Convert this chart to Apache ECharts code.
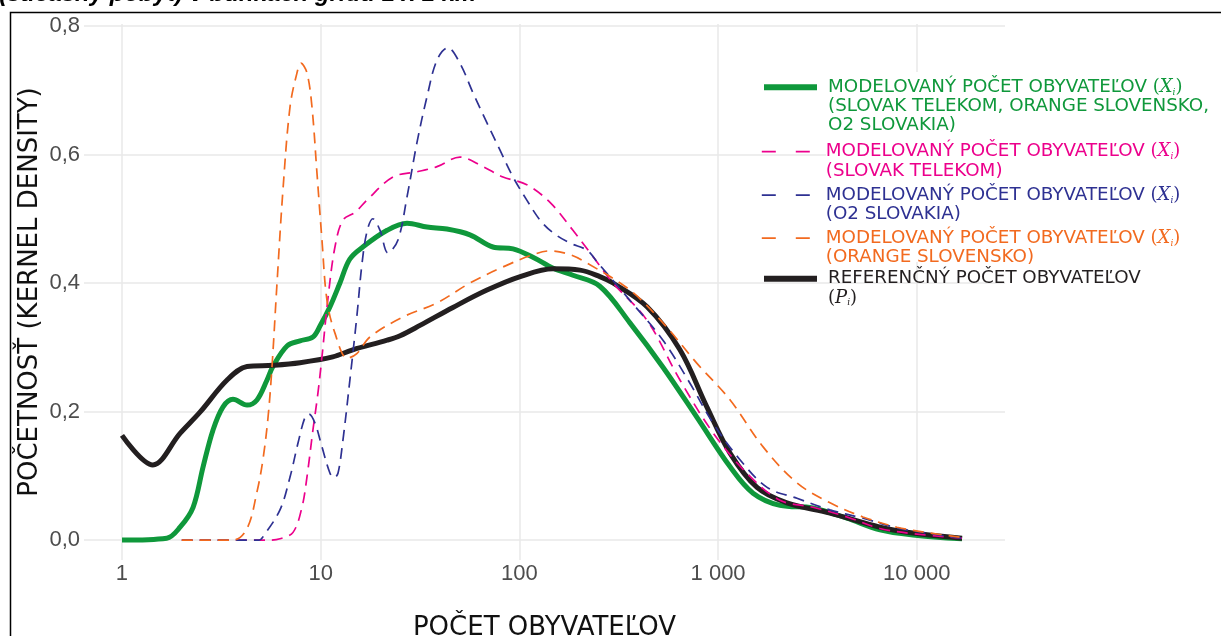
<!DOCTYPE html>
<html>
<head>
<meta charset="utf-8">
<title>Početnosť - počet obyvateľov</title>
<script src="https://cdn.jsdelivr.net/npm/echarts@6.0.0/dist/echarts.min.js"></script>
<style>
html,body{margin:0;padding:0;background:#fff;}
#main{width:1221px;height:636px;}
</style>
</head>
<body>
<div id="main"></div>
<script>
//osi
var xTicks = [1, 10, 100, 1000, 10000];
var yTicks = [0, 0.2, 0.4, 0.6, 0.8];

//modelovany pocet - vsetci operatori
var allX = [1, 1.68, 1.96, 2.28, 2.56, 2.87, 3.22, 3.62, 4.26, 4.78, 5.37, 5.75, 6.77, 7.87, 9.14, 9.92, 11.1, 12.5, 14.0, 16.3, 21.6, 27.2, 34.3, 43.2, 56.4, 73.6, 92.9, 117, 148, 186, 254, 360, 528, 783, 1150, 1500, 2050, 3000, 4450, 6530, 9570, 16900];
var allY = [0, 0.003, 0.02, 0.051, 0.114, 0.171, 0.207, 0.219, 0.21, 0.218, 0.249, 0.27, 0.302, 0.31, 0.316, 0.333, 0.362, 0.40, 0.437, 0.456, 0.482, 0.493, 0.487, 0.484, 0.475, 0.456, 0.453, 0.44, 0.423, 0.412, 0.395, 0.338, 0.269, 0.191, 0.114, 0.073, 0.054, 0.05, 0.034, 0.016, 0.008, 0.002];

//slovak telekom
var tkX = [2, 5.5, 6.24, 7.26, 8.05, 8.53, 9.14, 9.69, 10.15, 10.9, 11.8, 12.95, 14.9, 17.1, 23.1, 30.5, 38.5, 50.2, 65.6, 82.7, 109, 143, 186, 236, 296, 439, 643, 943, 1397, 2049, 3003, 4454, 6527, 9571, 16890];
var tkY = [0, 0, 0.002, 0.012, 0.051, 0.098, 0.171, 0.229, 0.285, 0.378, 0.456, 0.498, 0.51, 0.529, 0.565, 0.573, 0.581, 0.596, 0.581, 0.565, 0.553, 0.525, 0.482, 0.44, 0.40, 0.342, 0.249, 0.167, 0.104, 0.062, 0.051, 0.036, 0.018, 0.01, 0.003];

//o2 slovakia
var o2X = [2, 4.9, 5.12, 6.24, 7.01, 7.69, 8.34, 8.73, 9.36, 10.15, 11.14, 11.67, 12.22, 12.95, 14.04, 15.23, 16.14, 17.1, 18.3, 19.9, 21.8, 24.5, 27.2, 30.5, 34.3, 38.5, 43.7, 50.2, 58.4, 68.7, 79.8, 92.9, 109, 127, 148, 180, 219, 249, 360, 528, 722, 943, 1289, 1765, 2495, 3658, 5360, 7950, 11650, 16890];
var o2Y = [0, 0, 0.005, 0.047, 0.098, 0.151, 0.191, 0.196, 0.182, 0.145, 0.104, 0.097, 0.104, 0.156, 0.25, 0.35, 0.43, 0.48, 0.50, 0.482, 0.447, 0.467, 0.534, 0.618, 0.69, 0.747, 0.766, 0.742, 0.696, 0.649, 0.607, 0.565, 0.529, 0.498, 0.478, 0.462, 0.451, 0.431, 0.373, 0.311, 0.244, 0.182, 0.125, 0.082, 0.065, 0.047, 0.034, 0.019, 0.01, 0.003];

//orange slovensko
var orX = [2, 3.62, 4.26, 4.78, 5.12, 5.43, 5.69, 6.03, 6.46, 7.01, 7.6, 7.96, 8.53, 9.04, 9.58, 10.15, 10.76, 11.8, 13.6, 15.2, 17.7, 25.9, 38.5, 56.4, 82.7, 117, 143, 180, 219, 360, 528, 783, 1150, 1685, 2495, 3660, 5360, 7950, 11650, 16900];
var orY = [0, 0, 0.018, 0.075, 0.125, 0.19, 0.27, 0.40, 0.545, 0.674, 0.727, 0.742, 0.727, 0.674, 0.571, 0.467, 0.373, 0.322, 0.283, 0.29, 0.316, 0.347, 0.369, 0.40, 0.425, 0.444, 0.45, 0.444, 0.431, 0.389, 0.338, 0.275, 0.218, 0.145, 0.089, 0.058, 0.036, 0.02, 0.011, 0.004];

//referencny pocet
var refX = [1, 1.43, 1.96, 2.47, 3.38, 4.26, 5.75, 7.87, 11.5, 14.5, 21.6, 25.1, 31.6, 46.3, 68.7, 101, 148, 202, 254, 296, 439, 643, 879, 1150, 1570, 2220, 3660, 6530, 9570, 16900];
var refY = [0.163, 0.117, 0.166, 0.199, 0.249, 0.27, 0.272, 0.276, 0.285, 0.296, 0.311, 0.318, 0.334, 0.362, 0.389, 0.41, 0.422, 0.42, 0.41, 0.40, 0.363, 0.296, 0.207, 0.135, 0.082, 0.058, 0.042, 0.02, 0.011, 0.003];

var seriesNames = ['SLOVAK TELEKOM, ORANGE SLOVENSKO, O2 SLOVAKIA', 'SLOVAK TELEKOM', 'O2 SLOVAKIA', 'ORANGE SLOVENSKO', 'REFERENČNÝ POČET OBYVATEĽOV'];
var legendText = [
    'MODELOVANÝ POČET OBYVATEĽOV {p|(}{m|X}{s|i}{p|)}\n(SLOVAK TELEKOM, ORANGE SLOVENSKO,\nO2 SLOVAKIA)',
    'MODELOVANÝ POČET OBYVATEĽOV {p|(}{m|X}{s|i}{p|)}\n(SLOVAK TELEKOM)',
    'MODELOVANÝ POČET OBYVATEĽOV {p|(}{m|X}{s|i}{p|)}\n(O2 SLOVAKIA)',
    'MODELOVANÝ POČET OBYVATEĽOV {p|(}{m|X}{s|i}{p|)}\n(ORANGE SLOVENSKO)',
    'REFERENČNÝ POČET OBYVATEĽOV\n{p|(}{m|P}{s|i}{p|)}'
];
var colors = ['#0f983b', '#ec008c', '#2e3192', '#f26a1f', '#231f20'];

function pairs(xs, ys){
    var out = [];
    for (var i = 0; i < xs.length; i++) {
        out.push([xs[i], ys[i]]);
    }
    return out;
}

function $each(arr, fn){
    for (var i = 0; i < arr.length; i++) {
        fn(arr[i], i);
    }
}

function chartDensity(id){
    var myChart = echarts.init(document.getElementById(id), null, {renderer: 'canvas'});
    var lh = 19.3;
    var dash = [11, 7];
    var lines = [
        {x: allX, y: allY, width: 5, type: 'solid'},
        {x: tkX, y: tkY, width: 1.7, type: dash},
        {x: o2X, y: o2Y, width: 1.7, type: dash},
        {x: orX, y: orY, width: 1.7, type: dash},
        {x: refX, y: refY, width: 5, type: 'solid'}
    ];
    //poradie kreslenia: hrube ciary pod prerusovanymi
    var drawOrder = [0, 4, 1, 2, 3];
    var series = [];
    $each(drawOrder, function(k){
        var l = lines[k];
        series.push({
            name: seriesNames[k],
            type: 'line',
            smooth: 0.35,
            symbol: 'none',
            showSymbol: false,
            silent: true,
            lineStyle: {color: colors[k], width: l.width, type: l.type, cap: 'butt'},
            itemStyle: {color: colors[k]},
            data: pairs(l.x, l.y)
        });
    });

    var legendTops = [77.5, 142, 185.5, 228.5, 269];
    var legends = [];
    $each([0, 1, 2, 3, 4], function(k){
        var nLines = legendText[k].split('\n').length;
        var thick = lines[k].type === 'solid';
        var serif = 'DejaVu Serif';
        legends.push({
            data: [seriesNames[k]],
            orient: 'vertical',
            left: 761,
            top: legendTops[k],
            padding: 0,
            itemWidth: 53,
            itemHeight: 14,
            selectedMode: false,
            formatter: function(){ return legendText[k]; },
            itemStyle: {color: 'rgba(0,0,0,0)', borderWidth: 0, opacity: 0},
            lineStyle: {width: thick ? 6 : 1.6, type: thick ? 'solid' : [14, 20], cap: 'butt'},
            textStyle: {
                color: colors[k],
                fontFamily: 'DejaVu Sans',
                fontSize: 18.3,
                lineHeight: lh,
                padding: [0, 0, -(nLines - 1) * lh, 6],
                rich: {
                    p: {fontFamily: serif, fontSize: 18, lineHeight: lh, color: colors[k]},
                    m: {fontFamily: serif, fontStyle: 'italic', fontSize: 18, lineHeight: lh, color: colors[k]},
                    s: {fontFamily: serif, fontStyle: 'italic', fontSize: 9, lineHeight: lh, verticalAlign: 'bottom', color: colors[k]}
                }
            }
        });
    });

    var option = {
        animation: false,
        grid: {left: 84, right: 216, top: 24, bottom: 76, outerBoundsMode: 'none', containLabel: false},
        legend: legends,
        xAxis: {
            type: 'log',
            logBase: 10,
            min: 0.644,
            max: 27800,
            name: 'POČET OBYVATEĽOV',
            nameLocation: 'middle',
            nameGap: 55,
            nameMoveOverlap: false,
            nameTextStyle: {color: '#111', fontFamily: 'DejaVu Sans', fontSize: 26},
            axisLine: {show: false},
            axisTick: {show: false, customValues: xTicks},
            axisLabel: {
                customValues: xTicks,
                margin: 3,
                color: '#4d4d4d',
                fontFamily: 'Liberation Sans',
                fontSize: 22,
                formatter: function(v){
                    return String(Math.round(v)).replace(/\B(?=(\d{3})+(?!\d))/g, ' ');
                }
            },
            splitLine: {show: true, lineStyle: {color: '#e8e8e8', width: 1.5}},
            minorSplitLine: {show: false}
        },
        yAxis: {
            type: 'value',
            min: -0.031,
            max: 0.803,
            name: 'POČETNOSŤ (KERNEL DENSITY)',
            nameLocation: 'middle',
            nameGap: 41,
            nameMoveOverlap: false,
            nameTextStyle: {color: '#111', fontFamily: 'DejaVu Sans', fontSize: 26},
            axisLine: {show: false},
            axisTick: {show: false, customValues: yTicks},
            axisLabel: {
                customValues: yTicks,
                margin: 4,
                color: '#4d4d4d',
                fontFamily: 'Liberation Sans',
                fontSize: 22,
                formatter: function(v){
                    return v.toFixed(1).replace('.', ',');
                }
            },
            splitLine: {show: true, lineStyle: {color: '#e8e8e8', width: 1.5}}
        },
        graphic: [
            {
                type: 'rect',
                z: 1,
                shape: {x: 826, y: 72, width: 190, height: 190},
                style: {fill: '#fff'}
            },
            {
                type: 'polyline',
                z: 10,
                shape: {points: [[10.5, 640], [10.5, 12.5], [1225, 12.5]]},
                style: {stroke: '#000', lineWidth: 1.5, fill: null}
            },
            {
                type: 'text',
                z: 10,
                x: -1,
                y: 6,
                style: {
                    text: '(súčasný pobyt) v bunkách gridu 1 x 1 km',
                    font: 'italic bold 24px "Liberation Sans"',
                    fill: '#000',
                    verticalAlign: 'bottom'
                }
            }
        ],
        series: series
    };

    myChart.setOption(option);

    return myChart;
}

chartDensity('main');
</script>
</body>
</html>
